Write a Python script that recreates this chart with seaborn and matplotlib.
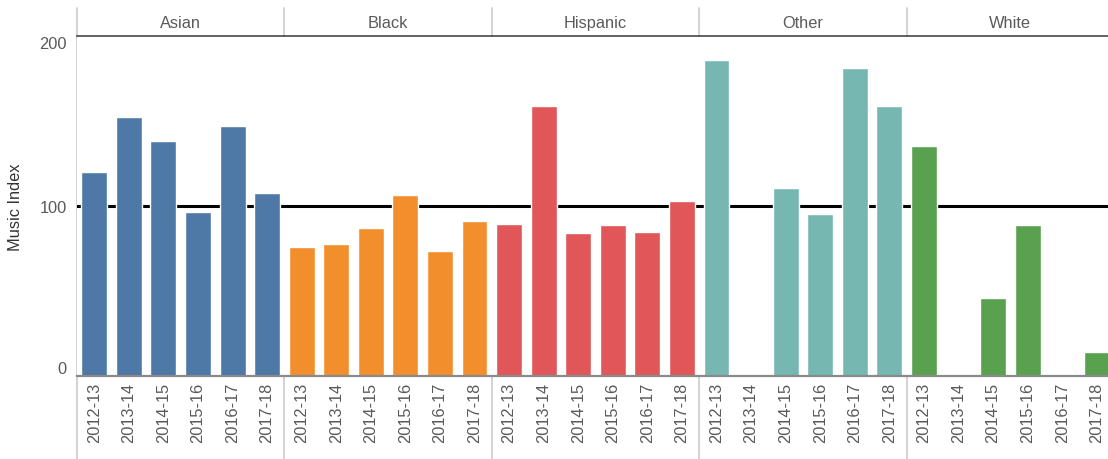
# ============================================================
# Music Index by group and school year - faceted bar chart
# ============================================================

import numpy as np
import pandas as pd
import matplotlib
matplotlib.use("Agg")
import matplotlib.pyplot as plt
from matplotlib.lines import Line2D
import seaborn as sns

# ------------------------------------------------------------
# Data
# ------------------------------------------------------------
years = ["2012-13", "2013-14", "2014-15", "2015-16", "2016-17", "2017-18"]
groups = ["Asian", "Black", "Hispanic", "Other", "White"]
colors = ["#4e79a7", "#f28e2b", "#e15759", "#76b7b2", "#59a14f"]

asian = [120.0, 152.5, 138.0, 96.5, 147.0, 107.5]
black = [76.0, 77.5, 87.0, 106.5, 73.5, 91.0]
hispanic = [89.5, 159.0, 84.0, 89.0, 84.5, 103.0]
other = [186.0, np.nan, 110.5, 95.5, 181.0, 159.0]
white = [135.5, np.nan, 46.0, 89.0, np.nan, 14.0]

values = [asian, black, hispanic, other, white]

rows = []
for g, vals in zip(groups, values):
    for y, v in zip(years, vals):
        rows.append({"group": g, "year": y, "index": v})
df = pd.DataFrame(rows)

# ------------------------------------------------------------
# Figure layout
# ------------------------------------------------------------
sns.set_style("white")
plt.rcParams["font.family"] = ["Liberation Sans", "DejaVu Sans"]

W, H = 1108, 460
fig, axes = plt.subplots(1, 5, figsize=(W / 100, H / 100), dpi=100, sharey=True)

left_px, right_px = 77, 1114
top_px, bottom_px = 37, 377
fig.subplots_adjust(left=left_px / W, right=right_px / W,
                    top=1 - top_px / H, bottom=1 - bottom_px / H, wspace=0)

text_col = "#5a5a5a"
fs = 11.8

for i, (ax, g, c) in enumerate(zip(axes, groups, colors)):
    sub = df[df["group"] == g].dropna()
    ax.axhline(100, color="black", lw=2.2, zorder=0.5)
    sns.barplot(data=sub, x="year", y="index", order=years, color=c,
                width=0.75, saturation=1, ax=ax, zorder=2)

    ax.set_ylim(0, 200)
    ax.set_xlim(-0.5, 5.5)
    ax.set_xlabel("")
    ax.set_ylabel("")

    for s in ["left", "right"]:
        ax.spines[s].set_visible(False)
    ax.spines["top"].set_color("#555555")
    ax.spines["top"].set_linewidth(1.3)
    ax.spines["bottom"].set_color("#8a8a8a")
    ax.spines["bottom"].set_linewidth(1.6)

    ax.tick_params(axis="x", length=0, pad=4.3, labelsize=fs,
                   labelcolor=text_col, labelrotation=90)
    ax.set_xticks(np.arange(len(years)))
    ax.set_xticks(np.arange(len(years) + 1) - 0.5, minor=True)
    ax.tick_params(axis="x", which="minor", length=4, color="#e6e6e6",
                   width=1, direction="out")

    ax.text(0.5, 1 + 13 / (bottom_px - top_px), g, transform=ax.transAxes,
            ha="center", va="center", fontsize=fs, color=text_col)

    if i > 0:
        ax.tick_params(axis="y", which="both", left=False, labelleft=False)

# y axis on the first panel
ax0 = axes[0]
ax0.set_yticks([0, 100, 200])
ax0.set_yticks(np.arange(20, 200, 20), minor=True)
ax0.tick_params(axis="y", which="major", length=4, color="#e6e6e6",
                pad=3.2, labelsize=fs, labelcolor=text_col)
ax0.tick_params(axis="y", which="minor", length=4, color="#ececec")
ylabels = ax0.get_yticklabels()
ylabels[0].set_verticalalignment("bottom")
ylabels[2].set_verticalalignment("top")
ax0.set_ylabel("Music Index", fontsize=11.8, color="#333333")
ax0.yaxis.set_label_coords(-(left_px - 23) / ((right_px - left_px) / 5), 0.5)

# panel divider lines running from header to bottom edge
panel_w = (right_px - left_px) / 5
for k in range(5):
    xf = (left_px + k * panel_w) / W
    fig.add_artist(Line2D([xf, xf], [0, 1 - 9 / H], transform=fig.transFigure,
                          color="#d3d3d3", lw=1.4, zorder=0))

fig.savefig("out.png", dpi=100)
